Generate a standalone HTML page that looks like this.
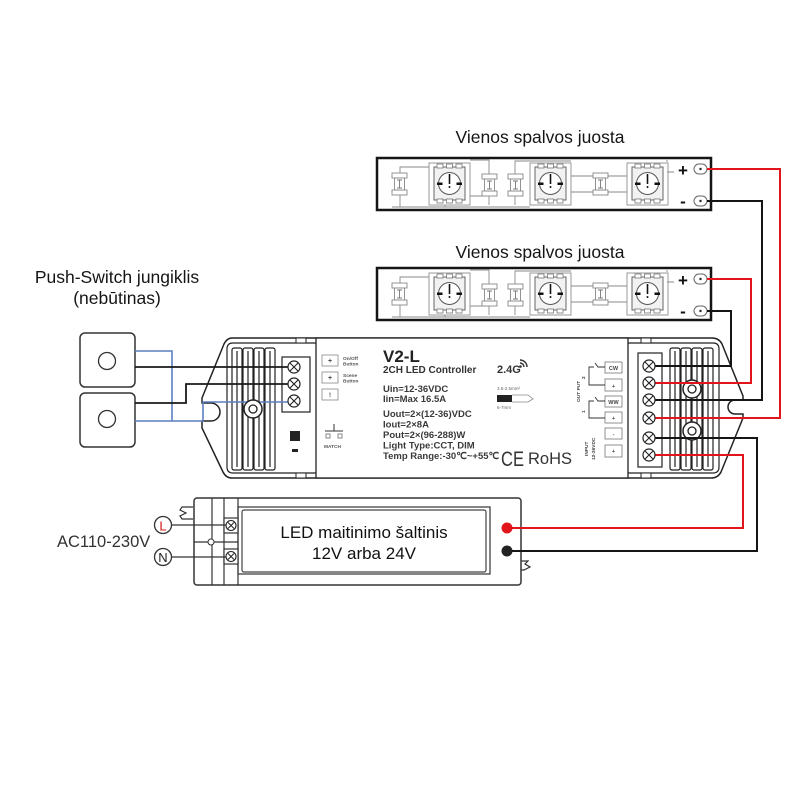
<!DOCTYPE html>
<html><head><meta charset="utf-8"><style>
html,body{margin:0;padding:0;background:#fff;}
svg{display:block;}
text{font-family:"Liberation Sans",Arial,sans-serif;}
</style></head><body>
<svg width="800" height="800" viewBox="0 0 800 800" xmlns="http://www.w3.org/2000/svg">
<rect width="800" height="800" fill="#fff"/>
<defs>
 <g id="led">
  <rect x="0" y="0" width="41" height="42" fill="none" stroke="#9a9a9a" stroke-width="1"/>
  <rect x="5" y="4" width="31" height="33" fill="#f2f2f2" stroke="#666" stroke-width="1"/>
  <rect x="8" y="1" width="6" height="4" fill="#fff" stroke="#777" stroke-width="0.8"/>
  <rect x="17.5" y="1" width="6" height="4" fill="#fff" stroke="#777" stroke-width="0.8"/>
  <rect x="27" y="1" width="6" height="4" fill="#fff" stroke="#777" stroke-width="0.8"/>
  <rect x="8" y="36" width="6" height="4" fill="#fff" stroke="#777" stroke-width="0.8"/>
  <rect x="17.5" y="36" width="6" height="4" fill="#fff" stroke="#777" stroke-width="0.8"/>
  <rect x="27" y="36" width="6" height="4" fill="#fff" stroke="#777" stroke-width="0.8"/>
  <circle cx="20.5" cy="20.5" r="11" fill="#fff" stroke="#555" stroke-width="1"/>
  <rect x="8" y="19.5" width="5.5" height="2.5" fill="#111"/>
  <rect x="27.5" y="19.5" width="5.5" height="2.5" fill="#111"/>
  <line x1="20.5" y1="11" x2="20.5" y2="21" stroke="#111" stroke-width="1.6"/>
  <circle cx="20.5" cy="24" r="1" fill="#111"/>
 </g>
 <g id="res">
  <rect x="0" y="0" width="15" height="5" fill="#fff" stroke="#888" stroke-width="0.9"/>
  <rect x="0" y="17" width="15" height="5" fill="#fff" stroke="#888" stroke-width="0.9"/>
  <rect x="2.5" y="5" width="10" height="12" fill="#fff" stroke="#888" stroke-width="0.9"/>
  <path d="M5 7 H10 M7.5 7 V15 M5 15 H10" stroke="#777" stroke-width="0.9" fill="none"/>
 </g>
 <g id="strip">
  <rect x="377" y="158" width="334" height="52" fill="#fff" stroke="#151515" stroke-width="2.5"/>
  <g stroke="#8a8a8a" stroke-width="0.9" fill="none">
   <path d="M400 173 V167 H429"/>
   <path d="M400 195 V207"/>
   <path d="M392 207 H530"/>
   <path d="M470 160 H489 V174"/>
   <path d="M470 196 H489"/>
   <path d="M489 196 V205"/>
   <path d="M515 174 V161 H571"/>
   <path d="M515 196 V205"/>
   <path d="M571 176 H627"/>
   <path d="M571 192 H627"/>
   <path d="M667 162 V160 M667 172 H674"/>
   <path d="M445 205 V207"/>
  </g>
  <use href="#res" x="392" y="173"/>
  <use href="#led" x="429" y="163"/>
  <use href="#res" x="482" y="174"/>
  <use href="#res" x="508" y="174"/>
  <use href="#led" x="530" y="163"/>
  <use href="#res" x="593" y="173"/>
  <use href="#led" x="627" y="163"/>
  <text x="683" y="176" font-size="17" font-weight="bold" fill="#111" text-anchor="middle">+</text>
  <text x="683" y="207" font-size="17" font-weight="bold" fill="#111" text-anchor="middle">-</text>
  <rect x="694" y="164" width="13" height="10" rx="5" fill="#fff" stroke="#666" stroke-width="1"/>
  <circle cx="700.5" cy="169" r="1.2" fill="#222"/>
  <rect x="694" y="196" width="13" height="10" rx="5" fill="#fff" stroke="#666" stroke-width="1"/>
  <circle cx="700.5" cy="201" r="1.2" fill="#222"/>
 </g>
</defs>

<!-- Titles -->
<text x="540" y="143" font-size="17.5" fill="#151515" text-anchor="middle">Vienos spalvos juosta</text>
<text x="540" y="258" font-size="17.5" fill="#151515" text-anchor="middle">Vienos spalvos juosta</text>
<text x="117" y="283" font-size="17.5" fill="#151515" text-anchor="middle">Push-Switch jungiklis</text>
<text x="117" y="304" font-size="17.5" fill="#151515" text-anchor="middle">(nebūtinas)</text>

<!-- Strips -->
<use href="#strip"/>
<use href="#strip" y="110"/>

<!-- Push switches -->
<rect x="80" y="333" width="55" height="54" rx="5" fill="#fff" stroke="#333" stroke-width="1.5"/>
<circle cx="107" cy="361" r="8.5" fill="#fff" stroke="#333" stroke-width="1.3"/>
<rect x="80" y="393" width="55" height="54" rx="5" fill="#fff" stroke="#333" stroke-width="1.5"/>
<circle cx="107" cy="419" r="8.5" fill="#fff" stroke="#333" stroke-width="1.3"/>

<!-- Controller body -->
<path d="M232 338 H712 Q719 338 722 344 L743 396 V400 H735 A7 7 0 0 0 735 414 H743 V418 L721 472 Q718 478 711 478 H232 Q226 478 223 472 L202 428 V421 H211 A9 9 0 0 0 211 403 H202 V398 L224 344 Q227 338 232 338 Z" fill="#fff" stroke="#222" stroke-width="1.5"/>
<path d="M316 343 H233 Q227 343 227 349 V467 Q227 473 233 473 H316" fill="none" stroke="#222" stroke-width="1.2"/>
<path d="M628 343 H713 Q719 343 719 349 V467 Q719 473 713 473 H628" fill="none" stroke="#222" stroke-width="1.2"/>
<rect x="296" y="338" width="10" height="5" fill="#fff" stroke="#222" stroke-width="1"/>
<rect x="296" y="473" width="10" height="5" fill="#fff" stroke="#222" stroke-width="1"/>
<rect x="641" y="338" width="10" height="5" fill="#fff" stroke="#222" stroke-width="1"/>
<rect x="641" y="473" width="10" height="5" fill="#fff" stroke="#222" stroke-width="1"/>
<!-- fins -->
<g fill="none" stroke="#222" stroke-width="1.2">
 <rect x="232" y="348" width="10" height="122" rx="2"/><line x1="237" y1="351" x2="237" y2="467"/>
 <rect x="243" y="348" width="10" height="122" rx="2"/><line x1="248" y1="351" x2="248" y2="467"/>
 <rect x="254" y="348" width="10" height="122" rx="2"/><line x1="259" y1="351" x2="259" y2="467"/>
 <rect x="265" y="348" width="10" height="122" rx="2"/><line x1="270" y1="351" x2="270" y2="467"/>
 <rect x="670" y="348" width="10" height="122" rx="2"/><line x1="675" y1="351" x2="675" y2="467"/>
 <rect x="681" y="348" width="10" height="122" rx="2"/><line x1="686" y1="351" x2="686" y2="467"/>
 <rect x="692" y="348" width="10" height="122" rx="2"/><line x1="697" y1="351" x2="697" y2="467"/>
 <rect x="703" y="348" width="10" height="122" rx="2"/><line x1="708" y1="351" x2="708" y2="467"/>
</g>
<!-- terminal blocks -->
<rect x="282" y="357" width="28" height="55" fill="#fff" stroke="#222" stroke-width="1.2"/>
<rect x="638" y="353" width="24" height="114" fill="#fff" stroke="#222" stroke-width="1.2"/>
<!-- button -->
<rect x="290" y="431" width="10" height="10" fill="#222"/>
<rect x="292" y="449" width="6" height="3" fill="#222"/>

<!-- Label area -->
<rect x="316" y="338" width="312" height="140" fill="#fff" stroke="#222" stroke-width="1.3"/>
<g font-weight="bold" fill="#555">
 <rect x="322" y="355" width="16" height="11" fill="#fff" stroke="#888" stroke-width="0.8"/>
 <text x="330" y="363" font-size="7" text-anchor="middle" fill="#444">+</text>
 <rect x="322" y="372" width="16" height="11" fill="#fff" stroke="#888" stroke-width="0.8"/>
 <text x="330" y="380" font-size="7" text-anchor="middle" fill="#444">+</text>
 <rect x="322" y="389" width="16" height="11" fill="#fff" stroke="#888" stroke-width="0.8"/>
 <text x="330" y="397" font-size="6" text-anchor="middle" fill="#444">!</text>
 <text x="343" y="360" font-size="4.8">On/Off</text>
 <text x="343" y="365.5" font-size="4.8">Button</text>
 <text x="343" y="377" font-size="4.8">Scene</text>
 <text x="343" y="382.5" font-size="4.8">Button</text>
 <text x="324" y="448" font-size="4.8">MATCH</text>
</g>
<g stroke="#333" stroke-width="1" fill="none">
 <path d="M325 431 H343 M334 424 V431"/>
 <rect x="326" y="434" width="4" height="4" stroke="#888"/>
 <rect x="338" y="434" width="4" height="4" stroke="#888"/>
</g>
<text x="383" y="362" font-size="17" font-weight="bold" fill="#222">V2-L</text>
<text x="383" y="373" font-size="10" font-weight="bold" fill="#333">2CH LED Controller</text>
<g font-size="9.5" font-weight="bold" fill="#3a3a3a">
 <text x="383" y="392">Uin=12-36VDC</text>
 <text x="383" y="402">Iin=Max 16.5A</text>
 <text x="383" y="417">Uout=2×(12-36)VDC</text>
 <text x="383" y="427.5">Iout=2×8A</text>
 <text x="383" y="438">Pout=2×(96-288)W</text>
 <text x="383" y="448.5">Light Type:CCT, DIM</text>
 <text x="383" y="459">Temp Range:-30℃~+55℃</text>
</g>
<text x="497" y="373" font-size="11" font-weight="bold" fill="#333">2.4G</text>
<g fill="none" stroke="#333" stroke-width="1.4">
 <path d="M520 363 A4 4 0 0 1 524 367"/>
 <path d="M520 360 A7 7 0 0 1 527 367"/>
</g>
<circle cx="520.5" cy="366.5" r="1.3" fill="#333"/>
<text x="497" y="390" font-size="4.5" fill="#666">3.5-2.5mm²</text>
<rect x="497" y="395" width="15" height="7" fill="#222"/>
<path d="M512 395 H528 L533 399 L528 402 H512" fill="none" stroke="#888" stroke-width="0.8"/>
<text x="497" y="409" font-size="4.5" fill="#666">6-7mm</text>
<text x="501" y="466" font-size="21" fill="#333" textLength="23" lengthAdjust="spacingAndGlyphs">CE</text>
<text x="528" y="464" font-size="16.5" fill="#333">RoHS</text>
<!-- right labels -->
<g stroke="#777" stroke-width="0.8" fill="#fff">
 <rect x="605" y="362" width="17" height="11"/>
 <rect x="605" y="379" width="17" height="12"/>
 <rect x="605" y="396" width="17" height="11"/>
 <rect x="605" y="412" width="17" height="11"/>
 <rect x="605" y="428" width="17" height="11"/>
 <rect x="605" y="445" width="17" height="12"/>
</g>
<g font-size="5.5" font-weight="bold" fill="#444" text-anchor="middle">
 <text x="613.5" y="370">CW</text>
 <text x="613.5" y="388">+</text>
 <text x="613.5" y="404">WW</text>
 <text x="613.5" y="420">+</text>
 <text x="613.5" y="436">-</text>
 <text x="613.5" y="453">+</text>
</g>
<g fill="none" stroke="#333" stroke-width="0.9">
 <path d="M605 367 H598 L595 363 M594 367 H589 V385 H605"/>
 <path d="M605 401 H598 L595 397 M594 401 H589 V418 H605"/>
</g>
<g font-size="4.8" font-weight="bold" fill="#444">
 <text transform="translate(580,402) rotate(-90)">OUT PUT</text>
 <text transform="translate(585,379) rotate(-90)">2</text>
 <text transform="translate(585,413) rotate(-90)">1</text>
 <text transform="translate(588,456) rotate(-90)">INPUT</text>
 <text transform="translate(595,460) rotate(-90)">12-36VDC</text>
</g>

<!-- Power supply -->
<rect x="194" y="498" width="327" height="87" rx="3" fill="#fff" stroke="#333" stroke-width="1.5"/>
<rect x="238" y="507" width="252" height="67" fill="none" stroke="#333" stroke-width="1.2"/>
<rect x="242" y="510" width="244" height="62" rx="2" fill="#fff" stroke="#444" stroke-width="1.2"/>
<g stroke="#333" stroke-width="1.2" fill="none">
 <line x1="212" y1="498" x2="212" y2="585"/>
 <line x1="224" y1="498" x2="224" y2="585"/>
 <line x1="238" y1="498" x2="238" y2="585"/>
 <rect x="224" y="518" width="14" height="15" fill="#fff"/>
 <rect x="224" y="549" width="14" height="15" fill="#fff"/>
 <path d="M171 525 H226 M171 557 H226 M194 542 H238"/>
 <path d="M193 507 H182 L180 510 L186 513 L180 516 L182 519 H193"/>
 <path d="M521 561 H528 L525 564 L530 567 L524 570 H521"/>
</g>
<circle cx="211" cy="542" r="3" fill="#fff" stroke="#333" stroke-width="1"/>
<g stroke="#222" stroke-width="1.1" fill="#fff">
 <circle cx="231" cy="525.5" r="5"/>
 <circle cx="231" cy="556.5" r="5"/>
</g>
<path d="M228 522.5 L234 528.5 M234 522.5 L228 528.5 M228 553.5 L234 559.5 M234 553.5 L228 559.5" stroke="#222" stroke-width="1"/>
<circle cx="163" cy="525" r="8.5" fill="#fff" stroke="#333" stroke-width="1.3"/>
<text x="163" y="530.5" font-size="13" fill="#d01818" text-anchor="middle">L</text>
<circle cx="163" cy="557" r="8.5" fill="#fff" stroke="#333" stroke-width="1.3"/>
<text x="163" y="562" font-size="13" fill="#222" text-anchor="middle">N</text>
<text x="57" y="547" font-size="16.5" fill="#333">AC110-230V</text>
<text x="364" y="538" font-size="17" fill="#111" text-anchor="middle">LED maitinimo šaltinis</text>
<text x="364" y="559" font-size="17" fill="#111" text-anchor="middle">12V arba 24V</text>

<!-- Blue switch wires -->
<g fill="none" stroke="#5b7ec0" stroke-width="1.6">
 <path d="M135 351 H172 V421"/>
 <path d="M135 421 H203 V402 H293"/>
</g>
<!-- Black switch wires -->
<g fill="none" stroke="#1a1a1a" stroke-width="1.8">
 <path d="M135 367 H293"/>
 <path d="M135 403 H186 V384 H293"/>
</g>

<!-- Mounting circles -->
<g fill="#fff" stroke="#222" stroke-width="1.5">
 <circle cx="253" cy="409" r="9"/>
 <circle cx="692" cy="389" r="9"/>
 <circle cx="692" cy="431" r="9"/>
</g>
<g fill="#fff" stroke="#222" stroke-width="1.3">
 <circle cx="253" cy="409" r="4"/>
 <circle cx="692" cy="389" r="4"/>
 <circle cx="692" cy="431" r="4"/>
</g>

<!-- Main wires -->
<g fill="none" stroke="#e3151c" stroke-width="2">
 <path d="M707 169 H780 V418 H649"/>
 <path d="M707 279 H751 V383 H649"/>
 <path d="M649 455 H743 V528 H507"/>
</g>
<g fill="none" stroke="#151515" stroke-width="2">
 <path d="M707 201 H762 V400 H649"/>
 <path d="M707 311 H731 V366 H649"/>
 <path d="M649 438 H757 V551 H507"/>
</g>
<circle cx="507" cy="528" r="5.5" fill="#e3151c"/>
<circle cx="507" cy="551" r="5.5" fill="#222"/>

<!-- Terminal screws -->
<g stroke="#222" stroke-width="1.2" fill="#fff">
 <circle cx="294" cy="367" r="6"/>
 <circle cx="294" cy="384" r="6"/>
 <circle cx="294" cy="401" r="6"/>
 <circle cx="649" cy="366" r="6"/>
 <circle cx="649" cy="383" r="6"/>
 <circle cx="649" cy="400" r="6"/>
 <circle cx="649" cy="418" r="6"/>
 <circle cx="649" cy="438" r="6"/>
 <circle cx="649" cy="455" r="6"/>
</g>
<g stroke="#222" stroke-width="1.1">
 <path d="M290 363 L298 371 M298 363 L290 371"/>
 <path d="M290 380 L298 388 M298 380 L290 388"/>
 <path d="M290 397 L298 405 M298 397 L290 405"/>
 <path d="M645 362 L653 370 M653 362 L645 370"/>
 <path d="M645 379 L653 387 M653 379 L645 387"/>
 <path d="M645 396 L653 404 M653 396 L645 404"/>
 <path d="M645 414 L653 422 M653 414 L645 422"/>
 <path d="M645 434 L653 442 M653 434 L645 442"/>
 <path d="M645 451 L653 459 M653 451 L645 459"/>
</g>
</svg>
</body></html>
